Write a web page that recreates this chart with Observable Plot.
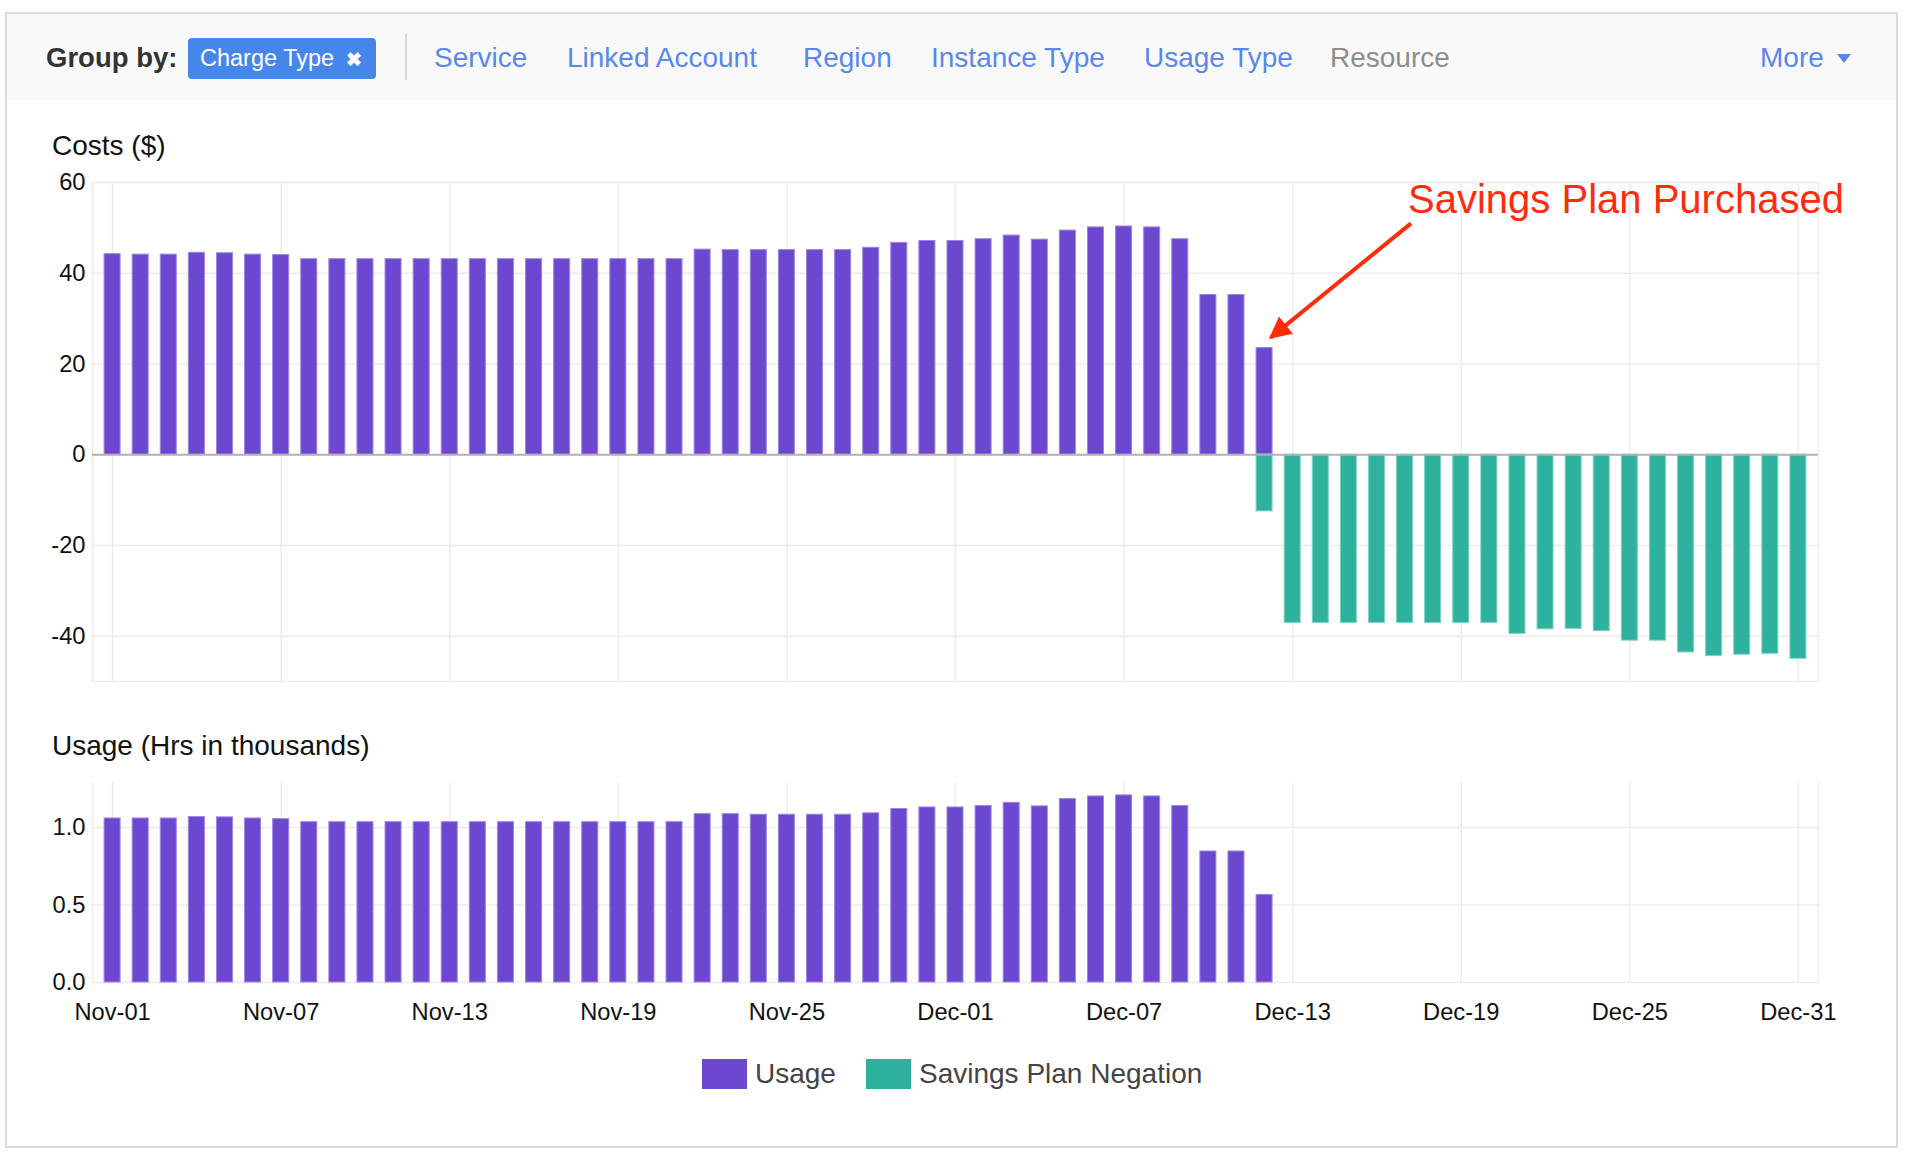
<!DOCTYPE html>
<html>
<head>
<meta charset="utf-8">
<script src="https://cdn.jsdelivr.net/npm/d3@7"></script>
<script src="https://cdn.jsdelivr.net/npm/@observablehq/plot@0.6"></script>
<style>
  html, body { margin: 0; padding: 0; background: #fff; }
  body { width: 1908px; height: 1164px; position: relative; overflow: hidden;
         font-family: "Liberation Sans", Arial, Helvetica, sans-serif; }
  .abs { position: absolute; }
  #header { left: 5px; top: 12px; width: 1893px; height: 90px; box-sizing: border-box;
            background: #f9f9f9; border: 2px solid #d9dddd; }
  #panel { left: 5px; top: 100px; width: 1893px; height: 1048px; box-sizing: border-box;
           border: 2px solid #d9dddd; border-top: none; background: #fff; }
  .nav { top: 37px; height: 41px; line-height: 41px; font-size: 28px; color: #5a87ea; white-space: nowrap; }
  #groupby { left: 46px; color: #333; font-weight: bold; font-size: 27.5px; }
  #chip { left: 188px; width: 188px; background: #4686ea; border-radius: 4px; color: #fff;
          font-size: 23.5px; box-sizing: border-box; padding-left: 12px; top: 38px; }
  #chip .x { position: absolute; left: 158px; font-size: 19px; font-weight: bold; top: 1px; }
  #divider { left: 405px; top: 34px; width: 2px; height: 46px; background: #d6d6d6; }
  #caret { left: 1837px; top: 54px; width: 0; height: 0; border-left: 7px solid transparent;
           border-right: 7px solid transparent; border-top: 9px solid #5a87ea; }
  .title { font-size: 28px; color: #111; white-space: nowrap; }
  .sw { width: 45px; height: 30px; }
  .lg { font-size: 28px; color: #444; top: 1058px; height: 32px; line-height: 32px; white-space: nowrap; }
</style>
</head>
<body>
<div id="header" class="abs"></div>
<div id="panel" class="abs"></div>
<div class="abs nav" id="groupby">Group by:</div>
<div class="abs nav" id="chip">Charge Type<span class="x">✖</span></div>
<div class="abs" id="divider"></div>
<div class="abs nav" style="left:434px">Service</div>
<div class="abs nav" style="left:567px">Linked Account</div>
<div class="abs nav" style="left:803px">Region</div>
<div class="abs nav" style="left:931px">Instance Type</div>
<div class="abs nav" style="left:1144px">Usage Type</div>
<div class="abs nav" style="left:1330px;color:#8d8d8d">Resource</div>
<div class="abs nav" style="left:1760px">More</div>
<div class="abs" id="caret"></div>

<div class="abs title" style="left:52px;top:130px">Costs ($)</div>
<div class="abs title" style="left:52px;top:730px">Usage (Hrs in thousands)</div>
<div id="costChart" class="abs" style="left:0;top:160px"></div>
<div id="usageChart" class="abs" style="left:0;top:760px"></div>

<div class="abs sw" id="sw1" style="left:702px;top:1059px"></div>
<div class="abs lg" id="lg1" style="left:755px"></div>
<div class="abs sw" id="sw2" style="left:866px;top:1059px"></div>
<div class="abs lg" id="lg2" style="left:919px"></div>

<script>
// ---------- data ----------
const dates = [
  "Nov-01","Nov-02","Nov-03","Nov-04","Nov-05","Nov-06","Nov-07","Nov-08","Nov-09","Nov-10",
  "Nov-11","Nov-12","Nov-13","Nov-14","Nov-15","Nov-16","Nov-17","Nov-18","Nov-19","Nov-20",
  "Nov-21","Nov-22","Nov-23","Nov-24","Nov-25","Nov-26","Nov-27","Nov-28","Nov-29","Nov-30",
  "Dec-01","Dec-02","Dec-03","Dec-04","Dec-05","Dec-06","Dec-07","Dec-08","Dec-09","Dec-10",
  "Dec-11","Dec-12","Dec-13","Dec-14","Dec-15","Dec-16","Dec-17","Dec-18","Dec-19","Dec-20",
  "Dec-21","Dec-22","Dec-23","Dec-24","Dec-25","Dec-26","Dec-27","Dec-28","Dec-29","Dec-30",
  "Dec-31"
];
const tickLabels = ["Nov-01","Nov-07","Nov-13","Nov-19","Nov-25","Dec-01","Dec-07","Dec-13","Dec-19","Dec-25","Dec-31"];
const costTicks = [-40, -20, 0, 20, 40, 60];
const usageTicks = [0, 0.5, 1.0];
const seriesNames = ["Usage", "Savings Plan Negation"];
const seriesColors = ["#6b48cf", "#2eb29e"];

// Usage cost, Nov-01 .. Dec-12
const usageCost = [
  44.2, 44.1, 44.1, 44.5, 44.4, 44.1, 44.0,
  43.1, 43.1, 43.1, 43.1, 43.1, 43.1, 43.1, 43.1, 43.1, 43.1, 43.1, 43.1, 43.1, 43.1,
  45.2, 45.1, 45.1, 45.1, 45.1, 45.1, 45.6, 46.7, 47.1,
  47.1, 47.5, 48.3, 47.4, 49.4, 50.1, 50.3, 50.1, 47.5, 35.2, 35.2, 23.5
];
// Savings Plan Negation, Dec-12 .. Dec-31
const negationStart = "Dec-12";
const negationCost = [
  -12.5, -37.1, -37.1, -37.1, -37.1, -37.1, -37.1, -37.1, -37.1,
  -39.5, -38.5, -38.4, -38.9, -41.0, -41.0, -43.6, -44.4, -44.1, -43.9, -45.0
];
// Usage hours (thousands), Nov-01 .. Dec-12
const usageHours = [
  1.058, 1.058, 1.058, 1.067, 1.065, 1.058, 1.054,
  1.034, 1.034, 1.034, 1.034, 1.034, 1.034, 1.034, 1.034, 1.034, 1.034, 1.034, 1.034, 1.034, 1.034,
  1.086, 1.086, 1.082, 1.082, 1.082, 1.082, 1.091, 1.119, 1.129,
  1.129, 1.138, 1.159, 1.136, 1.183, 1.200, 1.207, 1.200, 1.138, 0.845, 0.845, 0.565
];
// annotation
const annoText = "Savings Plan Purchased";
const annoTextAt = {date: "Dec-17", value: 56};
const annoArrowFrom = {date: "Dec-17", value: 51};
const annoArrowTo = {date: "Dec-12", value: 25.8};

// ---------- tables ----------
const negIdx = dates.indexOf(negationStart);
const costRows = [
  ...usageCost.map((v, i) => ({date: dates[i], value: v, series: seriesNames[0]})),
  ...negationCost.map((v, i) => ({date: dates[negIdx + i], value: v, series: seriesNames[1]}))
];
const usageRows = usageHours.map((v, i) => ({date: dates[i], value: v, series: seriesNames[0]}));

const font = "'Liberation Sans', Arial, Helvetica, sans-serif";
const gridColor = "#ececec";
const red = "#ff2c0c";
const W = 1908, ML = 92, MR = 90;
const xOpts = {type: "band", domain: dates, paddingInner: 0.43, paddingOuter: 0.43, round: false, axis: null};
const colorOpts = {domain: seriesNames, range: seriesColors};
const strokeFor = d => d.series === seriesNames[0] ? "#9a86e2" : "#7fd2c5";

// ---------- cost chart ----------
const costPlot = Plot.plot({
  width: W, height: 531,
  marginLeft: ML, marginRight: MR, marginTop: 22, marginBottom: 10,
  style: {fontFamily: font, fontSize: "23.7px", color: "#111", background: "transparent", overflow: "visible"},
  x: xOpts,
  y: {domain: [-50, 60], ticks: costTicks, label: null, tickSize: 0, tickPadding: 7},
  color: colorOpts,
  marks: [
    Plot.gridY(costTicks, {stroke: gridColor, strokeOpacity: 1, strokeWidth: 1.5}),
    Plot.gridX(tickLabels, {stroke: gridColor, strokeOpacity: 1, strokeWidth: 1.5}),
    Plot.frame({stroke: gridColor, strokeWidth: 1.5}),
    Plot.barY(costRows, {x: "date", y: "value", fill: "series", stroke: strokeFor, strokeWidth: 1}),
    Plot.ruleY([0], {stroke: "#b2b2b2", strokeWidth: 2}),
    Plot.link([{}], {
      x1: () => annoArrowFrom.date, y1: () => annoArrowFrom.value,
      x2: () => annoArrowTo.date, y2: () => annoArrowTo.value,
      stroke: red, strokeWidth: 4, dx: 6
    }),
    Plot.text([annoText], {
      x: () => annoTextAt.date, y: () => annoTextAt.value, text: d => d,
      textAnchor: "start", lineAnchor: "middle", fontSize: 40, fill: red, dx: 3
    }),
    Plot.axisY(costTicks, {tickSize: 0, tickPadding: 7, fontSize: 23.7, fill: "#111", tickFormat: d => String(d)})
  ]
});
// filled arrow head
{
  const svg = d3.select(costPlot);
  const defs = svg.insert("defs", ":first-child");
  defs.append("marker")
    .attr("id", "redhead").attr("viewBox", "0 0 10 10")
    .attr("refX", 9).attr("refY", 5)
    .attr("markerUnits", "userSpaceOnUse")
    .attr("markerWidth", 26).attr("markerHeight", 22)
    .attr("orient", "auto")
    .append("path").attr("d", "M0,0L10,5L0,10z").attr("fill", red);
  svg.selectAll("g")
    .filter(function() { return this.getAttribute("stroke") === red; })
    .selectAll("path, line")
    .attr("marker-end", "url(#redhead)");
}
document.getElementById("costChart").appendChild(costPlot);

// ---------- usage chart ----------
const usagePlot = Plot.plot({
  width: W, height: 272,
  marginLeft: ML, marginRight: MR, marginTop: 22, marginBottom: 50,
  style: {fontFamily: font, fontSize: "23.7px", color: "#111", background: "transparent", overflow: "visible"},
  x: xOpts,
  y: {domain: [0, 1.29], label: null},
  color: colorOpts,
  marks: [
    Plot.gridY(usageTicks, {stroke: gridColor, strokeOpacity: 1, strokeWidth: 1.5}),
    Plot.gridX(tickLabels, {stroke: gridColor, strokeOpacity: 1, strokeWidth: 1.5}),
    Plot.frame({anchor: "left", stroke: gridColor, strokeWidth: 1.5}),
    Plot.frame({anchor: "right", stroke: gridColor, strokeWidth: 1.5}),
    Plot.barY(usageRows, {x: "date", y: "value", fill: "series", stroke: strokeFor, strokeWidth: 1}),
    Plot.axisY(usageTicks, {tickSize: 0, tickPadding: 7, fontSize: 23.7, fill: "#111", tickFormat: d3.format(".1f"), label: null}),
    Plot.axisX(tickLabels, {tickSize: 0, tickPadding: 21, fontSize: 23.7, fill: "#111", label: null})
  ]
});
document.getElementById("usageChart").appendChild(usagePlot);

// ---------- legend ----------
document.getElementById("sw1").style.background = seriesColors[0];
document.getElementById("sw2").style.background = seriesColors[1];
document.getElementById("lg1").textContent = seriesNames[0];
document.getElementById("lg2").textContent = seriesNames[1];
</script>
</body>
</html>
